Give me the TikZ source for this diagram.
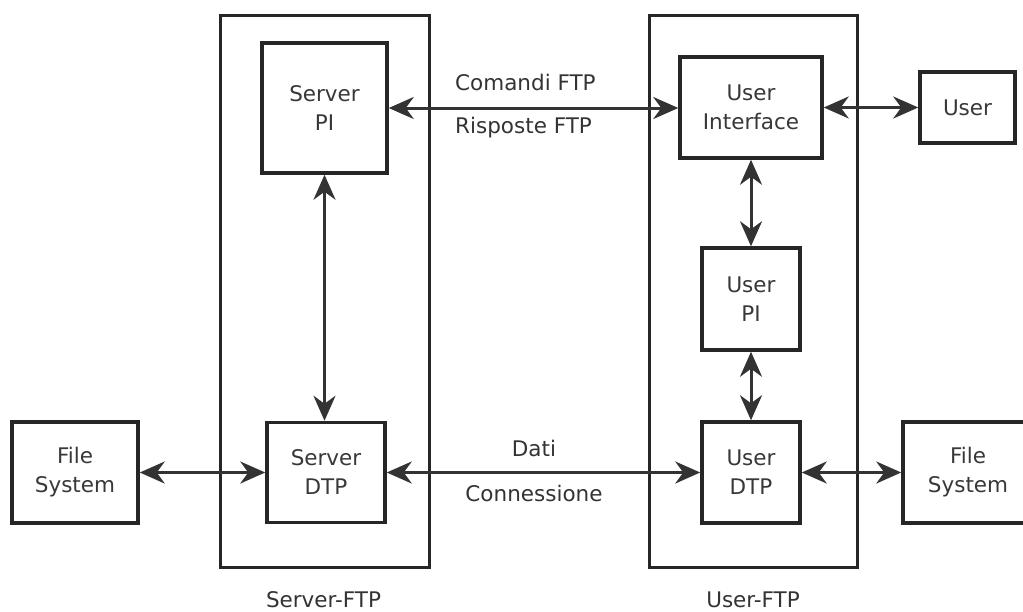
\documentclass[tikz,border=0pt]{standalone}
\usepackage{fontspec}
\setmainfont{DejaVu Sans}
\usetikzlibrary{arrows.meta}
\begin{document}
\begin{tikzpicture}[x=1pt,y=-1pt,
  container/.style={draw=black!85, line width=3pt, inner sep=0pt},
  block/.style={draw=black!85, line width=3.5pt, fill=white, text=black!78,
    align=center, inner sep=0pt, font=\fontsize{21.5}{29}\selectfont},
  tip/.tip={Stealth[length=25pt,width=22pt,inset=8pt]},
  link/.style={line width=3pt, draw=black!80, tip-tip},
  caption/.style={text=black!80, inner sep=0pt, font=\fontsize{21.5}{26}\selectfont}
]
\useasboundingbox (0,0) rectangle (1023,611);

% outer frames of the two programs
\node[container, minimum width=209pt, minimum height=552pt] (srv) at (324.5,291) {};
\node[container, minimum width=208pt, minimum height=552pt] (usr) at (753,291) {};
\node[caption, anchor=base] (srvlbl) at (323.5,607) {Server-FTP};
\node[caption, anchor=base] (usrlbl) at (753,607) {User-FTP};

% blocks
\node[block, minimum width=125pt, minimum height=130pt] (spi)  at (324.5,108) {Server\\PI};
\node[block, minimum width=118pt, minimum height=100pt] (sdtp) at (326,472.5) {Server\\DTP};
\node[block, minimum width=126pt, minimum height=101pt] (fsl)  at (75,472.5) {File\\System};
\node[block, minimum width=142pt, minimum height=101pt] (ui)   at (751,107.5) {User\\Interface};
\node[block, minimum width=95pt,  minimum height=71pt]  (user) at (967.5,107.5) {User};
\node[block, minimum width=98pt,  minimum height=102pt] (upi)  at (751,299) {User\\PI};
\node[block, minimum width=98pt,  minimum height=101pt] (udtp) at (751,472.5) {User\\DTP};
\node[block, minimum width=130pt, minimum height=101pt] (fsr)  at (968,472.5) {File\\System};

% connections
\draw[link] (spi.east) -- (spi.east -| ui.west);
\draw[link] (ui.east) -- (ui.east -| user.west);
\draw[link] (spi.south) -- (spi.south |- sdtp.north);
\draw[link] (ui.south) -- (upi.north);
\draw[link] (upi.south) -- (udtp.north);
\draw[link] (fsl.east) -- (sdtp.west);
\draw[link] (sdtp.east) -- (udtp.west);
\draw[link] (udtp.east) -- (fsr.west);

% connection labels
\node[caption, anchor=west] (cmd) at (455,82) {Comandi FTP};
\node[caption, anchor=west] (rsp) at (455,128) {Risposte FTP};
\node[caption] (dat) at (534,448) {Dati};
\node[caption] (con) at (534,493) {Connessione};
\end{tikzpicture}
\end{document}
